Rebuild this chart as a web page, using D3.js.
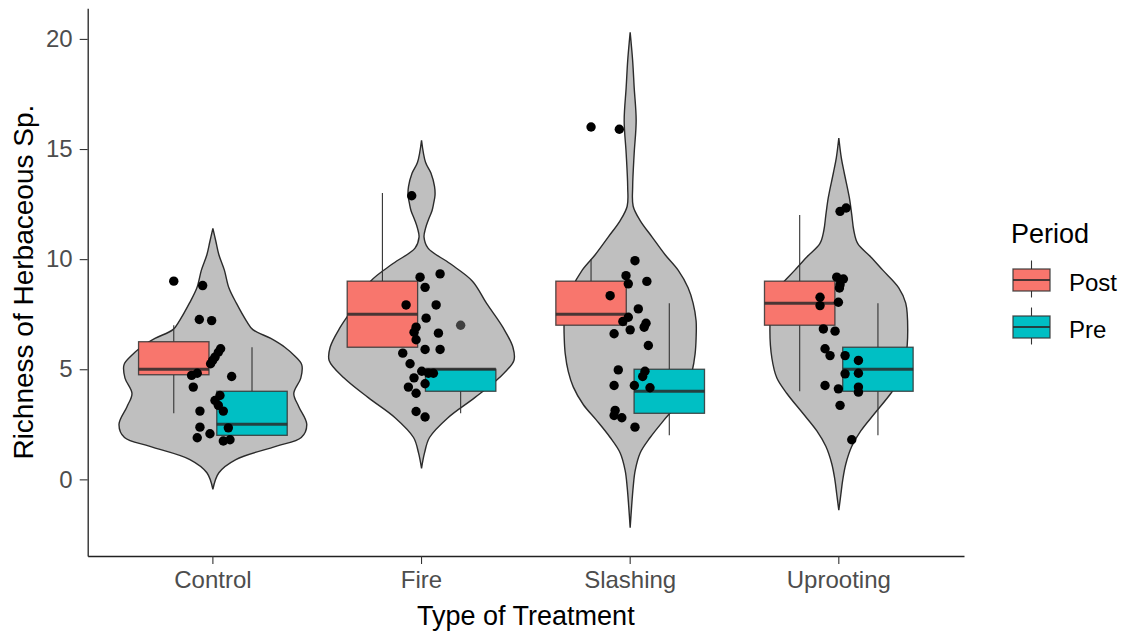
<!DOCTYPE html>
<html>
<head>
<meta charset="utf-8">
<script src="https://cdn.jsdelivr.net/npm/d3@7"></script>
<style>
  html, body { margin: 0; padding: 0; background: #fff; }
  svg { display: block; font-family: "Liberation Sans", Arial, sans-serif; }
</style>
</head>
<body>
<svg id="chart" width="1124" height="634"></svg>
<script>
// ---------------- data ----------------
const categories = ["Control", "Fire", "Slashing", "Uprooting"];
const periods = ["Post", "Pre"];
const periodColors = ["#F8766D", "#00BFC4"];
const yTicks = [0, 5, 10, 15, 20];

// boxplot stats per category: [lower whisker, Q1, median, Q3, upper whisker]
const postBoxes = [
  [3, 4.75, 5, 6.25, 7],
  [6, 6, 7.5, 9, 13],
  [7, 7, 7.5, 9, 10],
  [4, 7, 8, 9, 12]
];
const preBoxes = [
  [2, 2, 2.5, 4, 6],
  [3, 4, 5, 5, 5],
  [2, 3, 4, 5, 8],
  [2, 4, 5, 6, 8]
];
// outliers: [category index, period index, value]
const outliers = [
  [0, 0, 9],
  [1, 1, 7],
  [2, 0, 16]
];

// violin density profiles per category: [value, relative density]
const violinControl = [
  [11.4, 0], [10.8, 3], [10.2, 6], [9.5, 11.5], [8.7, 16], [8.0, 23.5], [7.2, 33.5],
  [6.8, 40], [6.4, 58], [6.0, 72], [5.6, 82], [5.2, 89], [4.6, 88], [3.9, 81],
  [3.3, 86], [2.5, 94], [1.9, 88.5], [1.5, 63], [0.9, 23], [0.3, 6], [-0.45, 0]
];
const violinFire = [
  [15.4, 0], [14.4, 4], [13.9, 9.5], [13.3, 13], [12.9, 13.5], [12.5, 12], [12.2, 10.5],
  [11.8, 7], [11.4, 4], [11.0, 2.5], [10.5, 6.5], [9.8, 28.5], [9.0, 51], [8.0, 65],
  [6.9, 81.5], [6.0, 91.5], [5.4, 92.5], [4.6, 77.5], [3.7, 53], [2.8, 26.5],
  [1.9, 8], [1.2, 3], [0.5, 0]
];
const violinSlashing = [
  [20.3, 0], [19.0, 2.5], [17.8, 4], [16.3, 6], [14.8, 4], [13.3, 2.5], [12.4, 3],
  [11.75, 10], [11.0, 22], [10.2, 35], [9.5, 48], [8.7, 58], [8.0, 63], [7.2, 66],
  [6.4, 66], [5.7, 65], [4.9, 62], [4.2, 57], [3.4, 47], [2.7, 34], [1.9, 20],
  [1.2, 10], [0.4, 5], [-0.35, 3], [-1.2, 1.5], [-2.2, 0]
];
const violinUprooting = [
  [15.5, 0], [14.6, 2.5], [13.9, 5.5], [12.8, 10.5], [12.0, 13], [11.3, 15], [10.7, 19],
  [10.1, 32], [9.5, 44], [8.7, 60], [8.0, 67], [6.8, 69], [5.5, 67], [4.6, 62],
  [3.9, 52], [3.0, 36], [2.2, 22], [1.5, 13], [0.7, 7], [0.0, 4], [-0.7, 2], [-1.4, 0]
];
const violins = [violinControl, violinFire, violinSlashing, violinUprooting];

// jittered raw observations per category: [horizontal jitter (category units), value]
const pointsControl = [
  [-0.049, 8.8], [-0.065, 7.26], [-0.006, 7.21], [0.037, 5.93], [0.026, 5.77], [0.010, 5.55],
  [-0.001, 5.4], [-0.011, 5.25], [-0.075, 4.82], [-0.102, 4.72], [0.090, 4.67], [-0.094, 4.19],
  [0.034, 3.81], [0.010, 3.58], [0.026, 3.36], [0.050, 3.1], [-0.062, 3.1], [-0.062, 2.37],
  [0.074, 2.34], [-0.014, 2.07], [-0.075, 1.89], [0.050, 1.74], [0.082, 1.8]
];
const pointsFire = [
  [-0.047, 12.88], [-0.007, 9.18], [0.089, 9.33], [0.017, 8.72], [-0.074, 7.92], [0.070, 7.92],
  [0.022, 7.32], [-0.026, 6.91], [-0.036, 6.68], [0.081, 6.64], [-0.026, 6.34], [0.017, 5.9],
  [0.089, 5.9], [-0.090, 5.73], [-0.055, 5.25], [0.001, 4.91], [0.057, 4.82], [0.033, 4.82],
  [-0.036, 4.61], [0.017, 4.34], [-0.063, 4.19], [-0.026, 3.91], [-0.026, 3.08], [0.017, 2.83]
];
const pointsSlashing = [
  [-0.052, 15.9], [0.023, 9.93], [-0.020, 9.25], [-0.009, 8.88], [0.080, 8.99], [-0.096, 8.34],
  [0.039, 7.74], [-0.009, 7.36], [-0.035, 7.17], [0.076, 7.09], [0.000, 6.79], [-0.077, 6.61],
  [0.067, 6.91], [0.087, 6.08], [-0.057, 4.97], [0.071, 4.91], [0.060, 4.67], [-0.077, 4.26],
  [0.020, 4.26], [0.095, 4.16], [-0.072, 3.13], [-0.077, 2.9], [-0.040, 2.8], [0.023, 2.37]
];
const pointsUprooting = [
  [0.035, 12.32], [0.006, 12.17], [-0.010, 9.18], [0.022, 9.1], [0.006, 8.84], [0.003, 8.69],
  [-0.090, 8.27], [-0.090, 7.89], [-0.002, 8.04], [-0.074, 6.83], [-0.018, 6.73], [-0.066, 5.93],
  [-0.042, 5.62], [0.030, 5.62], [0.094, 5.4], [0.030, 4.79], [0.094, 4.82], [-0.066, 4.26],
  [-0.002, 4.11], [0.094, 4.19], [0.094, 3.96], [0.006, 3.36], [0.062, 1.8]
];
const points = [pointsControl, pointsFire, pointsSlashing, pointsUprooting];

// ---------------- layout ----------------
const panel = { left: 87.7, right: 964, top: 8.3, bottom: 556 };
const svg = d3.select("#chart");

const x = d3.scaleBand().domain(categories)
  .range([panel.left, panel.right]).paddingInner(0).paddingOuter(0.1);
const step = x.step();
const cx = c => x(c) + x.bandwidth() / 2;

const y = d3.scaleLinear().domain([-3.48, 21.39]).range([panel.bottom, panel.top]);

// violin half-width scale (max width 0.9 of a category)
const wScale = d3.scaleLinear().domain([0, 94]).range([0, 0.45 * step]);
const boxW = 0.9 * 0.375 * step;
const boxCenter = (ci, pi) => cx(categories[ci]) + (pi === 0 ? -0.1875 : 0.1875) * step;
const dotR = 4.7;

const g = svg.append("g");

// outliers (drawn below the translucent violins)
g.append("g").selectAll("circle").data(outliers).join("circle")
  .attr("cx", d => boxCenter(d[0], d[1]))
  .attr("cy", d => y(d[2]))
  .attr("r", dotR)
  .attr("fill", "#000");

// violins
const area = d3.area().curve(d3.curveCatmullRom.alpha(0.5));
violins.forEach((prof, ci) => {
  const c = cx(categories[ci]);
  area.y(d => y(d[0]))
    .x0(d => c - wScale(d[1]))
    .x1(d => c + wScale(d[1]));
  g.append("path")
    .datum(prof)
    .attr("d", area)
    .attr("fill", "#7F7F7F")
    .attr("fill-opacity", 0.5)
    .attr("stroke", "#2b2b2b")
    .attr("stroke-width", 1.4);
});

// boxplots
[postBoxes, preBoxes].forEach((boxes, pi) => {
  boxes.forEach((b, ci) => {
    const bc = boxCenter(ci, pi);
    const bg = g.append("g");
    bg.append("line").attr("x1", bc).attr("x2", bc)
      .attr("y1", y(b[4])).attr("y2", y(b[3]))
      .attr("stroke", "#333").attr("stroke-width", 1.1);
    bg.append("line").attr("x1", bc).attr("x2", bc)
      .attr("y1", y(b[1])).attr("y2", y(b[0]))
      .attr("stroke", "#333").attr("stroke-width", 1.1);
    bg.append("rect")
      .attr("x", bc - boxW / 2).attr("width", boxW)
      .attr("y", y(b[3])).attr("height", y(b[1]) - y(b[3]))
      .attr("fill", periodColors[pi])
      .attr("stroke", "#333").attr("stroke-opacity", 0.85).attr("stroke-width", 1.3);
    bg.append("line")
      .attr("x1", bc - boxW / 2).attr("x2", bc + boxW / 2)
      .attr("y1", y(b[2])).attr("y2", y(b[2]))
      .attr("stroke", "#2a2a2a").attr("stroke-opacity", 0.85).attr("stroke-width", 3);
  });
});

// jittered points
points.forEach((pts, ci) => {
  const c = cx(categories[ci]);
  g.append("g").selectAll("circle").data(pts).join("circle")
    .attr("cx", d => c + d[0] * step)
    .attr("cy", d => y(d[1]))
    .attr("r", dotR)
    .attr("fill", "#000");
});

// axes
const yAxis = d3.axisLeft(y).tickValues(yTicks).tickSize(8).tickPadding(7).tickSizeOuter(0);
const ya = svg.append("g").attr("transform", `translate(${panel.left},0)`).call(yAxis);
const xAxis = d3.axisBottom(x).tickSize(8).tickPadding(7).tickSizeOuter(0);
const xa = svg.append("g").attr("transform", `translate(0,${panel.bottom})`).call(xAxis);
[ya, xa].forEach(a => {
  a.select(".domain").attr("stroke", "#222").attr("stroke-width", 1.3);
  a.selectAll(".tick line").attr("stroke", "#333").attr("stroke-width", 1.1);
  a.selectAll(".tick text").attr("fill", "#4D4D4D").style("font-size", "24px")
    .style("font-family", "'Liberation Sans', Arial, sans-serif");
});

// axis titles
svg.append("text")
  .attr("x", (panel.left + panel.right) / 2).attr("y", 625)
  .attr("text-anchor", "middle").attr("fill", "#000")
  .style("font-size", "27px")
  .text("Type of Treatment");
svg.append("text")
  .attr("transform", `translate(33,${(panel.top + panel.bottom) / 2}) rotate(-90)`)
  .attr("text-anchor", "middle").attr("fill", "#000")
  .style("font-size", "28px")
  .text("Richness of Herbaceous Sp.");

// legend
const legend = svg.append("g");
legend.append("text").attr("x", 1011).attr("y", 243)
  .attr("fill", "#000").style("font-size", "27px").text("Period");
periods.forEach((p, i) => {
  const top = 269 + i * 47;
  const kx = 1013, kw = 37, kh = 22;
  const kc = kx + kw / 2;
  legend.append("line").attr("x1", kc).attr("x2", kc).attr("y1", top - 8.5).attr("y2", top + kh + 6.5)
    .attr("stroke", "#333").attr("stroke-width", 1.1);
  legend.append("rect").attr("x", kx).attr("y", top).attr("width", kw).attr("height", kh)
    .attr("fill", periodColors[i]).attr("stroke", "#333").attr("stroke-opacity", 0.85).attr("stroke-width", 1.3);
  legend.append("line").attr("x1", kx).attr("x2", kx + kw).attr("y1", top + kh / 2).attr("y2", top + kh / 2)
    .attr("stroke", "#2a2a2a").attr("stroke-opacity", 0.85).attr("stroke-width", 2);
  legend.append("text").attr("x", 1069).attr("y", top + 22)
    .attr("fill", "#000").style("font-size", "24px").text(p);
});
</script>
</body>
</html>
